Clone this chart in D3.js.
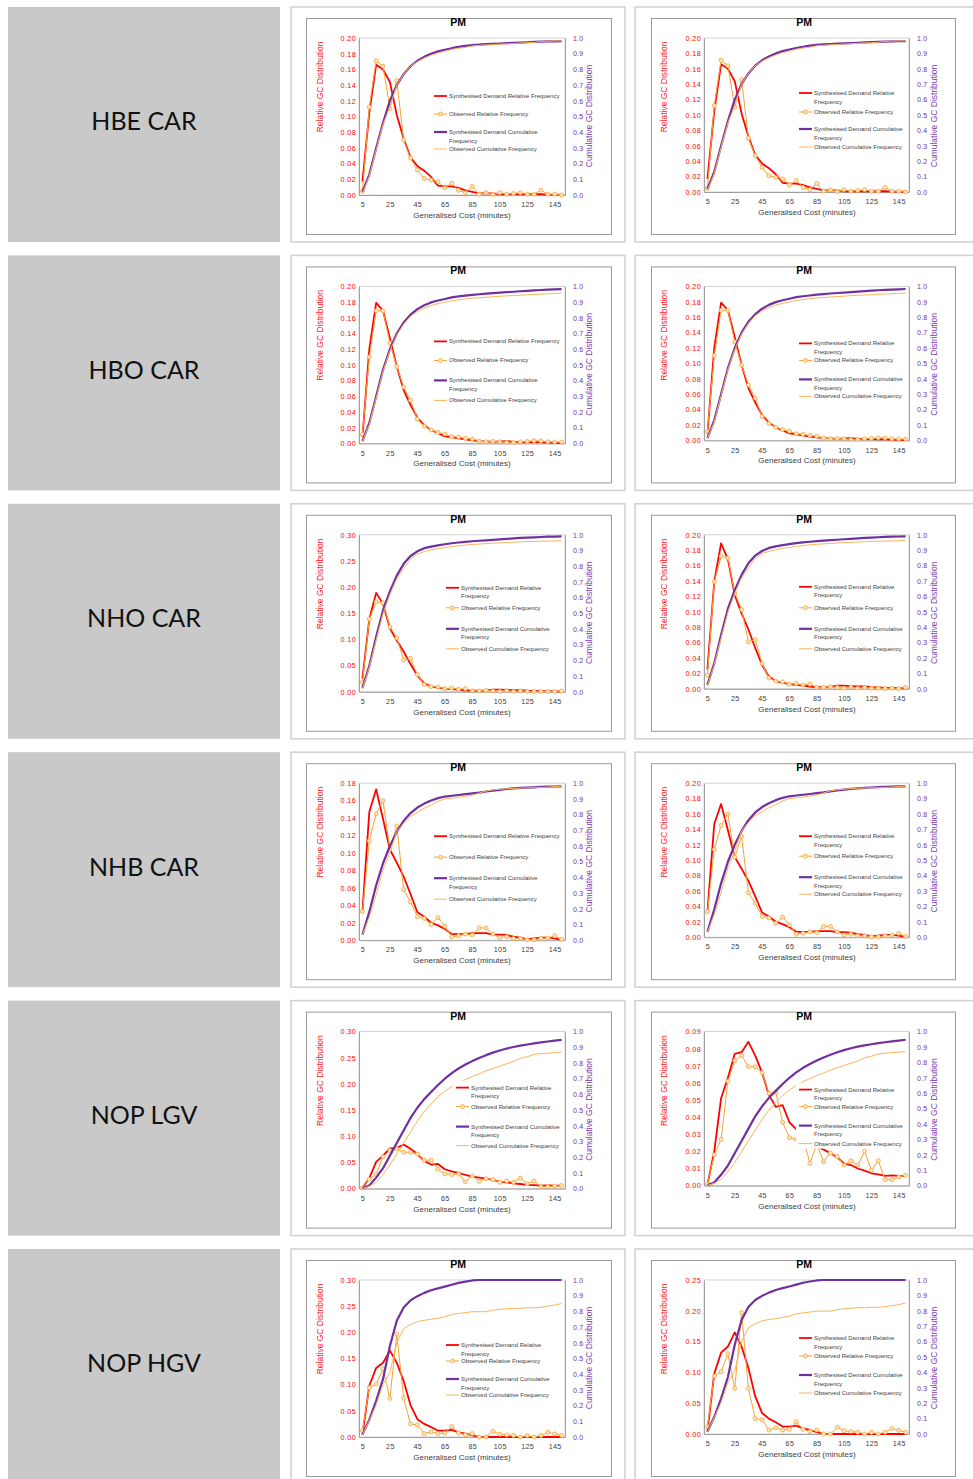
<html>
<head>
<script src="https://d3js.org/d3.v7.min.js"></script>
<style>
    body {
        margin: 0;
        background-color: #fff;
    }
    text { font-family: 'Liberation Sans', Arial, sans-serif; }
</style>
</head>
<body>
<svg width="973" height="1479"></svg>
<script type="text/javascript">
// generalised cost bands (minutes)
var gcBands = [5,10,15,20,25,30,35,40,45,50,55,60,65,70,75,80,85,90,95,100,105,110,115,120,125,130,135,140,145,150];
var xTickLabels = [5,25,45,65,85,105,125,145];

var relTicks018 = [0,0.02,0.04,0.06,0.08,0.10,0.12,0.14,0.16,0.18];
var relTicks020 = [0,0.02,0.04,0.06,0.08,0.10,0.12,0.14,0.16,0.18,0.20];
var relTicks025 = [0,0.05,0.10,0.15,0.20,0.25];
var relTicks030 = [0,0.05,0.10,0.15,0.20,0.25,0.30];
var relTicks009 = [0,0.01,0.02,0.03,0.04,0.05,0.06,0.07,0.08,0.09];
var cumTicks = [0,0.1,0.2,0.3,0.4,0.5,0.6,0.7,0.8,0.9,1.0];

var rowLabels = ["HBE CAR", "HBO CAR", "NHO CAR", "NHB CAR", "NOP LGV", "NOP HGV"];
var seriesNames = ["Synthesised Demand Relative Frequency", "Observed Relative Frequency",
                   "Synthesised Demand Cumulative Frequency", "Observed Cumulative Frequency"];

// HBE CAR
var hbeSynRel = [0.017,0.105,0.166,0.160,0.144,0.102,0.072,0.048,0.037,0.031,0.023,0.012,0.011,0.011,0.009,0.006,0.004,0.002,0.002,0.002,0.001,0.001,0.001,0.001,0.001,0.001,0.001,0.0005,0.0005,0.0003];
var hbeObsRel = [0.005,0.112,0.171,0.164,0.110,0.146,0.070,0.047,0.032,0.021,0.019,0.017,0.009,0.015,0.006,0.003,0.011,0.001,0.003,0.0005,0.003,0.001,0.002,0.003,0.001,0.001,0.006,0.001,0.001,0];
var hbeSynCum = [0.02,0.13,0.30,0.46,0.60,0.70,0.77,0.82,0.855,0.88,0.90,0.915,0.925,0.935,0.943,0.95,0.955,0.958,0.961,0.963,0.965,0.967,0.969,0.971,0.973,0.975,0.977,0.978,0.979,0.98];
var hbeObsCum = [0.01,0.12,0.29,0.45,0.56,0.70,0.77,0.82,0.85,0.872,0.89,0.905,0.915,0.927,0.935,0.94,0.95,0.953,0.956,0.958,0.961,0.963,0.965,0.968,0.97,0.972,0.978,0.98,0.981,0.982];

// HBO CAR
var hboSynRel = [0.008,0.12,0.179,0.169,0.134,0.098,0.068,0.049,0.033,0.023,0.017,0.013,0.009,0.008,0.0064,0.005,0.004,0.003,0.0025,0.002,0.0025,0.003,0.002,0.0018,0.0018,0.0015,0.0015,0.001,0.0008,0.0005];
var hboObsRel = [0.0115,0.11,0.169,0.169,0.128,0.098,0.072,0.055,0.031,0.022,0.017,0.014,0.012,0.0085,0.008,0.0064,0.0055,0.003,0.002,0.0025,0.002,0.0013,0.0013,0.002,0.0025,0.0034,0.003,0.002,0.0017,0.0017];
var hboSynCum = [0.015,0.13,0.30,0.47,0.60,0.70,0.77,0.82,0.855,0.88,0.898,0.91,0.92,0.93,0.936,0.941,0.946,0.95,0.954,0.957,0.96,0.963,0.966,0.969,0.972,0.975,0.977,0.979,0.981,0.983];
var hboObsCum = [0.012,0.12,0.29,0.46,0.59,0.69,0.76,0.81,0.84,0.862,0.878,0.89,0.90,0.908,0.915,0.92,0.925,0.928,0.931,0.934,0.937,0.94,0.942,0.944,0.946,0.949,0.951,0.953,0.955,0.957];

// NHO CAR
var nhoSynRel = [0.025,0.139,0.189,0.168,0.122,0.098,0.077,0.053,0.031,0.016,0.010,0.008,0.006,0.005,0.004,0.003,0.002,0.002,0.0026,0.004,0.004,0.0035,0.003,0.003,0.002,0.0017,0.0013,0.0013,0.0008,0.0008];
var nhoObsRel = [0.018,0.139,0.172,0.17,0.124,0.103,0.061,0.064,0.033,0.014,0.010,0.009,0.006,0.007,0.005,0.006,0.002,0.0017,0.0026,0.0017,0.0008,0.0022,0.0008,0.0017,0.0008,0.0008,0.0004,0.0008,0.0004,0.0017];
var nhoSynCum = [0.025,0.165,0.35,0.52,0.64,0.74,0.815,0.865,0.895,0.915,0.925,0.933,0.94,0.946,0.951,0.955,0.959,0.962,0.965,0.968,0.971,0.974,0.977,0.98,0.982,0.984,0.986,0.988,0.989,0.99];
var nhoObsCum = [0.018,0.157,0.33,0.50,0.62,0.72,0.785,0.845,0.878,0.893,0.903,0.912,0.918,0.925,0.93,0.935,0.938,0.941,0.944,0.947,0.949,0.951,0.953,0.955,0.957,0.958,0.959,0.96,0.961,0.963];

// NHB CAR
var nhbSynRel = [0.033,0.147,0.173,0.139,0.104,0.089,0.073,0.053,0.032,0.027,0.020,0.017,0.013,0.007,0.007,0.007,0.008,0.008,0.008,0.0065,0.0065,0.006,0.004,0.003,0.001,0.002,0.003,0.003,0.002,0.0005];
var nhbObsRel = [0.033,0.114,0.145,0.16,0.104,0.131,0.058,0.044,0.027,0.025,0.018,0.026,0.016,0.004,0.005,0.007,0.006,0.014,0.014,0.007,0.003,0.004,0.002,0.002,0.0005,0.0005,0.002,0.0025,0.005,0.001];
var nhbSynCum = [0.035,0.18,0.35,0.49,0.60,0.69,0.76,0.81,0.845,0.87,0.89,0.905,0.915,0.92,0.925,0.93,0.935,0.94,0.947,0.953,0.958,0.963,0.967,0.97,0.972,0.974,0.976,0.978,0.979,0.98];
var nhbObsCum = [0.033,0.147,0.29,0.45,0.56,0.69,0.745,0.79,0.815,0.84,0.86,0.885,0.9,0.905,0.91,0.917,0.923,0.937,0.95,0.957,0.961,0.965,0.967,0.969,0.97,0.971,0.973,0.975,0.979,0.98];

// NOP LGV
var lgvSynRel = [0.0005,0.02,0.051,0.063,0.077,0.078,0.084,0.076,0.066,0.053,0.046,0.047,0.037,0.033,0.030,0.026,0.023,0.021,0.019,0.0165,0.013,0.012,0.010,0.0088,0.0072,0.0066,0.0057,0.006,0.0057,0.0055];
var lgvObsRel = [0.001,0.018,0.027,0.061,0.073,0.076,0.0695,0.0695,0.066,0.054,0.0545,0.037,0.028,0.027,0.028,0.013,0.024,0.014,0.019,0.017,0.012,0.0145,0.012,0.020,0.009,0.0145,0.0035,0.0035,0.005,0.006];
var lgvSynCum = [0.003,0.02,0.07,0.13,0.21,0.29,0.37,0.45,0.515,0.57,0.615,0.66,0.70,0.735,0.765,0.79,0.812,0.832,0.85,0.866,0.88,0.892,0.902,0.911,0.918,0.925,0.931,0.937,0.942,0.947];
var lgvObsCum = [0.001,0.015,0.04,0.09,0.15,0.22,0.29,0.36,0.43,0.49,0.54,0.585,0.62,0.65,0.675,0.695,0.715,0.73,0.75,0.765,0.78,0.795,0.81,0.83,0.84,0.855,0.86,0.863,0.867,0.87];

// NOP HGV
var hgvSynRel = [0.004,0.098,0.132,0.142,0.165,0.142,0.107,0.061,0.034,0.025,0.019,0.012,0.012,0.0135,0.009,0.0065,0.003,0.0005,0,0,0,0,0,0,0,0,0,0,0,0];
var hgvObsRel = [0.012,0.094,0.101,0.13,0.074,0.197,0.074,0.025,0.023,0.0065,0.010,0.0065,0.0076,0.02,0.0076,0.004,0.0065,0,0,0.011,0.0054,0.004,0.003,0,0.0027,0,0.003,0.009,0.006,0.003];
var hgvSynCum = [0.015,0.11,0.23,0.37,0.58,0.74,0.825,0.87,0.897,0.918,0.935,0.947,0.958,0.97,0.982,0.99,0.997,1,1,1,1,1,1,1,1,1,1,1,1,1];
var hgvObsCum = [0.012,0.105,0.205,0.335,0.41,0.6,0.69,0.715,0.735,0.743,0.75,0.757,0.765,0.78,0.787,0.792,0.798,0.798,0.798,0.808,0.813,0.817,0.82,0.82,0.823,0.823,0.826,0.834,0.84,0.85];

var rowSeries = [
    [hbeSynRel, hbeObsRel, hbeSynCum, hbeObsCum],
    [hboSynRel, hboObsRel, hboSynCum, hboObsCum],
    [nhoSynRel, nhoObsRel, nhoSynCum, nhoObsCum],
    [nhbSynRel, nhbObsRel, nhbSynCum, nhbObsCum],
    [lgvSynRel, lgvObsRel, lgvSynCum, lgvObsCum],
    [hgvSynRel, hgvObsRel, hgvSynCum, hgvObsCum]
];
// primary axis ticks, [left chart, right chart] per row
var rowRelTicks = [
    [relTicks020, relTicks020],
    [relTicks020, relTicks020],
    [relTicks030, relTicks020],
    [relTicks018, relTicks020],
    [relTicks030, relTicks009],
    [relTicks030, relTicks025]
];
// legend placement: line x, item y's, whether the first entry wraps
var legendSpots = [
    [[434, 96, 114, 132, 149, false], [799, 93, 112, 129, 147, true]],
    [[434, 93, 112, 132, 152, false], [799, 95, 112, 131, 148, true]],
    [[446, 91, 111, 132, 152, true],  [799, 90, 111, 132, 152, true]],
    [[434, 91, 112, 133, 154, false], [799, 91, 111, 132, 149, true]],
    [[456, 94, 113, 133, 152, true],  [799, 96, 113, 132, 150, true]],
    [[446, 103, 119, 137, 153, true], [799, 96, 114, 133, 151, true]]
];

var cols = [
    {outer: [291, 625], inner: [306, 611], plot: [359, 565], bottom: 195, titleX: 458, yLX: 321, yRX: 590, xTitleX: 462},
    {outer: [635, 975], inner: [651, 955], plot: [704, 909], bottom: 192, titleX: 804, yLX: 665, yRX: 935, xTitleX: 807}
];
var plotTop = 38;
var rowGap = 248.4;

var colors = {synRel: "#ff0000", obsRel: "#f7a334", synCum: "#7030a0", obsCum: "#fdb35a"};

var svg = d3.select("svg");

rowLabels.forEach(function(label, r) {
    var row = svg.append("g").attr("transform", "translate(0," + (r * rowGap) + ")");
    row.append("rect")
        .attr("x", 8).attr("y", 7).attr("width", 272).attr("height", 235)
        .attr("fill", "#c9c9c9");
    row.append("text")
        .attr("x", 144).attr("y", 124)
        .attr("text-anchor", "middle")
        .attr("dominant-baseline", "middle")
        .style("font", "25px Lato")
        .attr("fill", "#111")
        .text(label);
    cols.forEach(function(c, ci) {
        drawPanel(row, c, rowSeries[r], rowRelTicks[r][ci], legendSpots[r][ci]);
    });
});

function drawPanel(g, c, series, relTicks, leg) {
    g.append("rect")
        .attr("x", c.outer[0]).attr("y", 7)
        .attr("width", c.outer[1] - c.outer[0]).attr("height", 235)
        .attr("fill", "none").attr("stroke", "#d0d0d0").attr("stroke-width", 1.5);
    g.append("rect")
        .attr("x", c.inner[0] + 0.5).attr("y", 18.5)
        .attr("width", c.inner[1] - c.inner[0]).attr("height", 216)
        .attr("fill", "#fff").attr("stroke", "#9a9a9a").attr("stroke-width", 1);

    var x = d3.scalePoint().domain(gcBands).range(c.plot).padding(0.5);
    var yRel = d3.scaleLinear().domain([0, relTicks[relTicks.length - 1]]).range([c.bottom, plotTop]);
    var yCum = d3.scaleLinear().domain([0, 1]).range([c.bottom, plotTop]);

    g.append("text")
        .attr("x", c.titleX).attr("y", 26)
        .attr("text-anchor", "middle")
        .style("font", "bold 10.5px 'Liberation Sans'")
        .text("PM");

    // plot area outline
    g.append("rect")
        .attr("x", c.plot[0]).attr("y", plotTop)
        .attr("width", c.plot[1] - c.plot[0]).attr("height", c.bottom - plotTop)
        .attr("fill", "none").attr("stroke", "#c8c8c8").attr("stroke-width", 0.8);

    var axL = g.append("g")
        .attr("transform", "translate(" + c.plot[0] + ",0)")
        .call(d3.axisLeft(yRel).tickValues(relTicks).tickSize(0).tickPadding(3).tickFormat(d3.format(".2f")));
    axL.select(".domain").attr("stroke", "#a0a0a0");
    axL.selectAll("text").attr("fill", "#ff0000").style("font", "7.2px 'Liberation Sans'").style("letter-spacing", "0.35px");

    var axR = g.append("g")
        .attr("transform", "translate(" + c.plot[1] + ",0)")
        .call(d3.axisRight(yCum).tickValues(cumTicks).tickSize(0).tickPadding(8).tickFormat(d3.format(".1f")));
    axR.select(".domain").attr("stroke", "#a0a0a0");
    axR.selectAll("text").attr("fill", "#7030a0").style("font", "7px 'Liberation Sans'").style("letter-spacing", "0.2px");

    var axB = g.append("g")
        .attr("transform", "translate(0," + c.bottom + ")")
        .call(d3.axisBottom(x).tickValues(xTickLabels).tickSize(0).tickPadding(7));
    axB.select(".domain").attr("stroke", "#a0a0a0");
    axB.selectAll("text").attr("fill", "#404040").style("font", "7.2px 'Liberation Sans'").style("letter-spacing", "0.3px");

    g.append("text")
        .attr("transform", "translate(" + c.yLX + ",87) rotate(-90)")
        .attr("text-anchor", "middle")
        .attr("dominant-baseline", "middle")
        .attr("fill", "#ff2020")
        .style("font", "8.5px 'Liberation Sans'")
        .text("Relative GC Distribution");
    g.append("text")
        .attr("transform", "translate(" + c.yRX + ",116) rotate(-90)")
        .attr("text-anchor", "middle")
        .attr("dominant-baseline", "middle")
        .attr("fill", "#7a3db0")
        .style("font", "8.5px 'Liberation Sans'")
        .text("Cumulative GC Distribution");
    g.append("text")
        .attr("x", c.xTitleX).attr("y", c.bottom + 23)
        .attr("text-anchor", "middle")
        .attr("fill", "#404040")
        .style("font", "8px 'Liberation Sans'")
        .text("Generalised Cost (minutes)");

    var relLine = d3.line().x(function(d, i) { return x(gcBands[i]); }).y(function(d) { return yRel(d); });
    var cumLine = d3.line().x(function(d, i) { return x(gcBands[i]); }).y(function(d) { return yCum(d); });

    g.append("path").datum(series[0])
        .attr("fill", "none").attr("stroke", colors.synRel).attr("stroke-width", 1.8)
        .attr("stroke-linejoin", "round").attr("d", relLine);
    g.append("path").datum(series[1])
        .attr("fill", "none").attr("stroke", colors.obsRel).attr("stroke-width", 1)
        .attr("d", relLine);
    g.selectAll(null).data(series[1]).enter().append("circle")
        .attr("cx", function(d, i) { return x(gcBands[i]); })
        .attr("cy", function(d) { return yRel(d); })
        .attr("r", 2)
        .attr("fill", "#fde6c4").attr("stroke", colors.obsRel).attr("stroke-width", 0.8);
    g.append("path").datum(series[2])
        .attr("fill", "none").attr("stroke", colors.synCum).attr("stroke-width", 2.2)
        .attr("stroke-linejoin", "round").attr("d", cumLine);
    g.append("path").datum(series[3])
        .attr("fill", "none").attr("stroke", colors.obsCum).attr("stroke-width", 1)
        .attr("d", cumLine);

    // legend (white box hides the lines behind it)
    var lx = leg[0], tx = lx + 15;
    g.append("rect")
        .attr("x", lx - 3).attr("y", leg[1] - 7)
        .attr("width", c.plot[1] - lx + 1).attr("height", leg[4] - leg[1] + 12)
        .attr("fill", "#fff");
    var entries = [
        {y: leg[1], lines: leg[5] ? ["Synthesised Demand Relative", "Frequency"] : [seriesNames[0]], color: colors.synRel, w: 1.8, marker: false},
        {y: leg[2], lines: [seriesNames[1]], color: colors.obsRel, w: 1, marker: true},
        {y: leg[3], lines: ["Synthesised Demand Cumulative", "Frequency"], color: colors.synCum, w: 2.2, marker: false},
        {y: leg[4], lines: [seriesNames[3]], color: colors.obsCum, w: 1, marker: false}
    ];
    entries.forEach(function(e) {
        g.append("line")
            .attr("x1", lx).attr("x2", lx + 13).attr("y1", e.y).attr("y2", e.y)
            .attr("stroke", e.color).attr("stroke-width", e.w);
        if (e.marker) {
            g.append("circle").attr("cx", lx + 6.5).attr("cy", e.y).attr("r", 2)
                .attr("fill", "#fde6c4").attr("stroke", e.color).attr("stroke-width", 0.8);
        }
        e.lines.forEach(function(t, k) {
            g.append("text")
                .attr("x", tx).attr("y", e.y + 2 + k * 8.5)
                .attr("fill", "#404040")
                .style("font", "6px 'Liberation Sans'")
                .text(t);
        });
    });
}
</script>
</body>
</html>
